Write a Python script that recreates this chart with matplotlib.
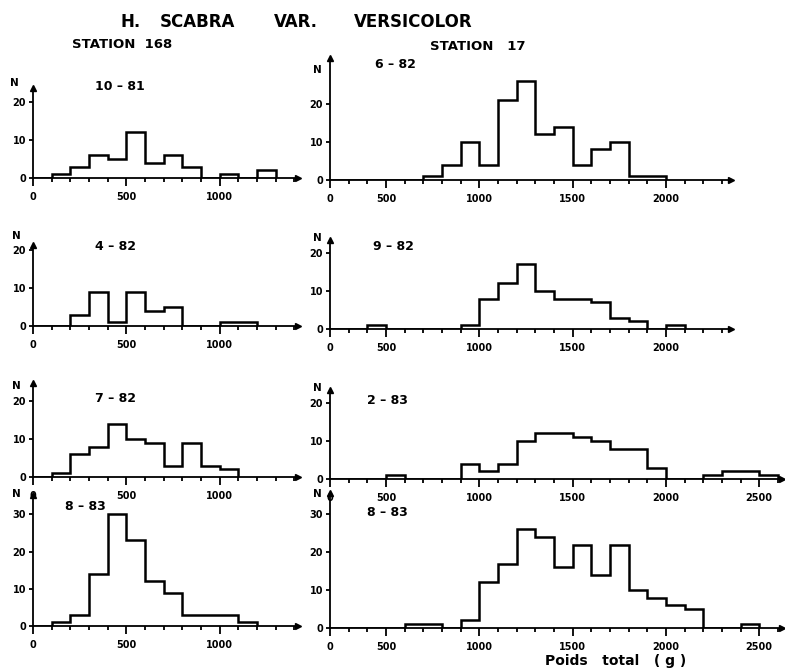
import numpy as np
import matplotlib
matplotlib.use("Agg")
import matplotlib.pyplot as plt
from matplotlib.ticker import MultipleLocator

plt.rcParams["font.family"] = ["DejaVu Sans"]
plt.rcParams["font.weight"] = "bold"

W, H = 785, 672
BIN = 100  # bin width in g

# counts per 100 g bin, left column starts at 0 g, right column at 200 g
counts_168_10_81 = [0, 1, 3, 6, 5, 12, 4, 6, 3, 0, 1, 0, 2]
counts_168_4_82 = [0, 0, 3, 9, 1, 9, 4, 5, 0, 0, 1, 1]
counts_168_7_82 = [0, 1, 6, 8, 14, 10, 9, 3, 9, 3, 2]
counts_168_8_83 = [0, 1, 3, 14, 30, 23, 12, 9, 3, 3, 3, 1]

counts_17_6_82 = [0, 0, 0, 0, 0, 1, 4, 10, 4, 21, 26, 12, 14, 4, 8, 10, 1, 1]
counts_17_9_82 = [0, 0, 1, 0, 0, 0, 0, 1, 8, 12, 17, 10, 8, 8, 7, 3, 2, 0, 1]
counts_17_2_83 = [0, 0, 0, 1, 0, 0, 0, 4, 2, 4, 10, 12, 12, 11, 10, 8, 8, 3,
                  0, 0, 1, 2, 2, 1]
counts_17_8_83 = [0, 0, 0, 0, 1, 1, 0, 2, 12, 17, 26, 24, 16, 22, 14, 22, 10,
                  8, 6, 5, 0, 0, 1]

left_start = 0
right_start = 200
left_ticks = [0, 500, 1000]
right_ticks = [200, 500, 1000, 1500, 2000]
right_ticks_long = [200, 500, 1000, 1500, 2000, 2500]

PX_PER_G = 0.1866


def rect(x0, xspan, y0, ytop):
    """axes rect from pixel coords of the origin, width in g and top."""
    x1 = x0 + xspan * PX_PER_G
    return [x0 / W, 1 - y0 / H, (x1 - x0) / W, (y0 - ytop) / H]


def put(fig, x, y, s, size, **kw):
    fig.text(x / W, 1 - y / H, s, fontsize=size, fontweight="bold",
             va="center", ha="left", **kw)


def draw_panel(fig, box, counts, start, xlim, ytop, xticks, yticks, label,
               label_xy, n_xy):
    ax = fig.add_axes(box)
    ax.patch.set_visible(False)
    edges = start + BIN * np.arange(len(counts) + 1)
    ax.stairs(counts, edges, color="black", lw=1.8, baseline=0)
    ax.set_xlim(*xlim)
    ax.set_ylim(0, ytop)

    for s in ("top", "right"):
        ax.spines[s].set_visible(False)
    for s in ("left", "bottom"):
        ax.spines[s].set_linewidth(1.3)
    ax.plot(1, 0, ">k", ms=5, transform=ax.transAxes, clip_on=False)
    ax.plot(0, 1, "^k", ms=5, transform=ax.transAxes, clip_on=False)

    xlabels = ["0" if t == start else str(t) for t in xticks]
    ax.set_xticks(xticks, labels=xlabels)
    ax.xaxis.set_minor_locator(MultipleLocator(BIN))
    ax.set_yticks(yticks)
    ax.tick_params(axis="x", which="major", length=6, width=1.3, pad=4,
                   labelsize=7)
    ax.tick_params(axis="x", which="minor", length=3, width=1.3)
    ax.tick_params(axis="y", length=3, width=1.3, pad=2, labelsize=7)
    for t in ax.get_xticklabels() + ax.get_yticklabels():
        t.set_fontweight("bold")

    put(fig, label_xy[0], label_xy[1], label, 9)
    put(fig, n_xy[0], n_xy[1], "N", 7.5)
    return ax


fig = plt.figure(figsize=(W / 100, H / 100), dpi=100)

# left column : station 168
draw_panel(fig, rect(33, 1420, 178, 88), counts_168_10_81, left_start,
           (0, 1420), 23.7, left_ticks, [0, 10, 20], "10 – 81",
           (95, 87), (10, 83))
draw_panel(fig, rect(33, 1420, 326, 245), counts_168_4_82, left_start,
           (0, 1420), 21.3, left_ticks, [0, 10, 20], "4 – 82",
           (95, 247), (12, 236))
draw_panel(fig, rect(33, 1420, 477, 383), counts_168_7_82, left_start,
           (0, 1420), 24.7, left_ticks, [0, 10, 20], "7 – 82",
           (95, 398), (12, 386))
draw_panel(fig, rect(33, 1420, 626, 495), counts_168_8_83, left_start,
           (0, 1420), 35.2, left_ticks, [0, 10, 20, 30], "8 – 83",
           (65, 506), (12, 494))

# right column : station 17
draw_panel(fig, rect(330, 2150, 180, 58), counts_17_6_82, right_start,
           (200, 2350), 32, right_ticks, [0, 10, 20], "6 – 82",
           (375, 64), (313, 70))
draw_panel(fig, rect(330, 2150, 329, 240), counts_17_9_82, right_start,
           (200, 2350), 23.4, right_ticks, [0, 10, 20], "9 – 82",
           (373, 247), (313, 238))
draw_panel(fig, rect(330, 2420, 479, 390), counts_17_2_83, right_start,
           (200, 2620), 23.4, right_ticks_long, [0, 10, 20], "2 – 83",
           (367, 400), (313, 388))
draw_panel(fig, rect(330, 2420, 628, 493), counts_17_8_83, right_start,
           (200, 2620), 35.6, right_ticks_long, [0, 10, 20, 30], "8 – 83",
           (367, 512), (313, 494))

# title, in pieces to keep the wide spacing of the original
put(fig, 120, 22, "H.", 12)
put(fig, 160, 22, "SCABRA", 12)
put(fig, 274, 22, "VAR.", 12)
put(fig, 354, 22, "VERSICOLOR", 12)
put(fig, 72, 45, "STATION  168", 9.5)
put(fig, 430, 47, "STATION   17", 9.5)
put(fig, 545, 661, "Poids   total   ( g )", 10)

fig.savefig("out.png", dpi=100)
